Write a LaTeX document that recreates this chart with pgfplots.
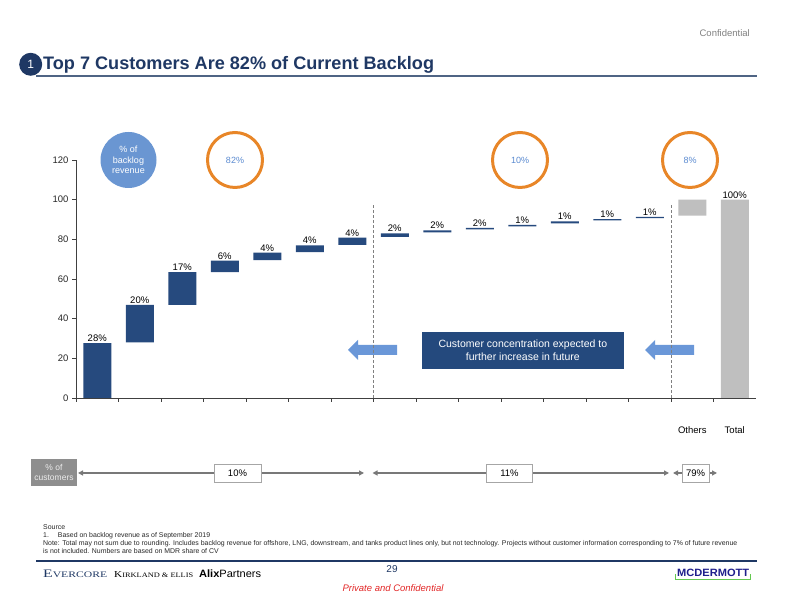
\documentclass[border=0pt]{standalone}
\usepackage{fontspec}
\setmainfont{Liberation Sans}
\newfontfamily\seriffont{Liberation Serif}
\usepackage{graphicx}
\usepackage{pgfplots}
\pgfplotsset{compat=1.18}
\usetikzlibrary{arrows.meta}
\definecolor{barblue}{RGB}{38,74,126}
\definecolor{bargray}{RGB}{191,191,191}
\definecolor{titleblue}{RGB}{31,56,100}
\definecolor{ulblue}{RGB}{79,100,132}
\definecolor{ringorange}{RGB}{232,134,40}
\definecolor{ringtext}{RGB}{90,138,208}
\definecolor{circfill}{RGB}{106,150,210}
\definecolor{arrowblue}{RGB}{106,151,216}
\definecolor{boxblue}{RGB}{36,73,125}
\definecolor{custgray}{RGB}{142,142,142}
\definecolor{linegray}{RGB}{120,120,120}
\definecolor{confgray}{RGB}{128,128,128}
\definecolor{mcblue}{RGB}{30,30,140}
\definecolor{mcgreen}{RGB}{100,200,80}
\definecolor{pcred}{RGB}{226,38,38}
\tikzset{blab/.style={anchor=base, inner sep=0, yshift=1.5pt, font=\fontsize{9.5}{11}\selectfont}}
\begin{document}
\begin{tikzpicture}[x=1pt,y=1pt]
\useasboundingbox (0,0) rectangle (792,612);
% header
\node[anchor=base east, inner sep=0, text=confgray, font=\fontsize{9.5}{11}\selectfont] at (750,575) {Confidential};
\draw[line width=2pt, ulblue] (36,536.3) -- (757,536.3);
\fill[titleblue] (30.7,547.7) circle (11.5);
\node[text=white, font=\fontsize{12}{14}\selectfont] at (30.7,547.7) {1};
\node[anchor=base west, inner sep=0, text=titleblue, font=\bfseries\fontsize{18.1}{21}\selectfont] at (43,542.5) {Top 7 Customers Are 82\% of Current Backlog};
% circles
\fill[circfill] (128.5,452) circle (28);
\node[text=white, align=center, font=\fontsize{9}{10.5}\selectfont] at (128.5,452) {\% of\\backlog\\revenue};
\foreach \cx/\lab in {235/82, 520/10, 690/8}{
  \draw[ringorange, line width=3pt] (\cx,452) circle (27.5);
  \node[text=ringtext, font=\fontsize{9}{10.5}\selectfont] at (\cx,452) {\lab\%};
}
% blue block arrows
\fill[arrowblue] (348,262) -- (358,272) -- (358,267) -- (397,267) -- (397,257) -- (358,257) -- (358,252) -- cycle;
\fill[arrowblue] (645,262) -- (655,272) -- (655,267) -- (694,267) -- (694,257) -- (655,257) -- (655,252) -- cycle;
% callout box
\fill[boxblue] (421.7,243) rectangle (624,280);
\node[text=white, align=center, font=\fontsize{10.5}{12.7}\selectfont] at (522.85,261.5) {Customer concentration expected to\\further increase in future};
\begin{axis}[
  at={(76pt,214pt)}, anchor=south west,
  scale only axis, width=680pt, height=238pt,
  xmin=-0.5, xmax=15.5, ymin=0, ymax=120,
  axis x line*=bottom, axis y line*=left,
  axis line style={black!75, line width=0.8pt},
  tick style={black!75, line width=0.8pt},
  tick align=outside, major tick length=4pt,
  xtick={-0.5,0.5,...,14.5}, xticklabels={},
  ytick={0,20,...,120},
  yticklabel style={font=\fontsize{9.5}{11}\selectfont, text=black!85},
  /pgf/number format/assume math mode=true,
  ybar stacked, bar width=28pt,
  clip=false,
]
\addplot[fill=none, draw=none] coordinates {(0,0) (1,28) (2,47) (3,63.5) (4,69.5) (5,73.5) (6,77.2) (7,81.2) (8,83.5) (9,85) (10,86.5) (11,88) (12,89.5) (13,90.7) (14,92) (15,0)};
\addplot[fill=barblue, draw=none] coordinates {(0,27.7) (1,19) (2,16.5) (3,5.7) (4,3.8) (5,3.5) (6,3.6) (7,1.8) (8,1.0) (9,0.8) (10,0.8) (11,1.0) (12,0.7) (13,0.6) (14,0) (15,0)};
\addplot[fill=bargray, draw=none] coordinates {(0,0) (1,0) (2,0) (3,0) (4,0) (5,0) (6,0) (7,0) (8,0) (9,0) (10,0) (11,0) (12,0) (13,0) (14,8) (15,100)};
\draw[gray, line width=0.8pt, dash pattern=on 3pt off 2pt] (axis cs:6.5,0) -- (axis cs:6.5,98);
\draw[gray, line width=0.8pt, dash pattern=on 3pt off 2pt] (axis cs:13.5,0) -- (axis cs:13.5,98);
\node[blab] at (axis cs:0,27.7) {28\%};
\node[blab] at (axis cs:1,47) {20\%};
\node[blab] at (axis cs:2,63.5) {17\%};
\node[blab] at (axis cs:3,69.2) {6\%};
\node[blab] at (axis cs:4,73.3) {4\%};
\node[blab] at (axis cs:5,77) {4\%};
\node[blab] at (axis cs:6,80.8) {4\%};
\node[blab] at (axis cs:7,83) {2\%};
\node[blab] at (axis cs:8,84.5) {2\%};
\node[blab] at (axis cs:9,85.8) {2\%};
\node[blab] at (axis cs:10,87.3) {1\%};
\node[blab] at (axis cs:11,89) {1\%};
\node[blab] at (axis cs:12,90.2) {1\%};
\node[blab] at (axis cs:13,91.3) {1\%};
\node[blab] at (axis cs:15,100) {100\%};
\node[font=\fontsize{9.5}{11}\selectfont] at (axis cs:14,-16.1) {Others};
\node[font=\fontsize{9.5}{11}\selectfont] at (axis cs:15,-16.1) {Total};
\end{axis}
% bottom customer row
\fill[custgray] (30.7,126) rectangle (77.3,153);
\node[text=white!85!gray, align=center, font=\fontsize{8.5}{10}\selectfont] at (54,139.5) {\% of\\customers};
\draw[linegray, line width=1.2pt, {Triangle[length=5pt,width=5pt]}-{Triangle[length=5pt,width=5pt]}] (78,139) -- (364,139);
\draw[linegray, line width=1.2pt, {Triangle[length=5pt,width=5pt]}-{Triangle[length=5pt,width=5pt]}] (372.5,139) -- (669,139);
\draw[linegray, line width=1.2pt, {Triangle[length=5pt,width=5pt]}-{Triangle[length=5pt,width=5pt]}] (673,139) -- (717,139);
\foreach \xa/\xb/\lab in {214/261/10, 486.5/532.5/11, 682/709/79}{
  \filldraw[fill=white, draw=black!35, line width=0.8pt] (\xa,130) rectangle (\xb,148);
  \node[font=\fontsize{9.5}{11}\selectfont] at ({(\xa+\xb)/2},139) {\lab\%};
}
% footnotes
\node[anchor=north west, inner sep=0, align=left, text=black!85, font=\fontsize{6.93}{8.1}\selectfont] at (43,87.5) {Source\\1.\hspace{9pt}Based on backlog revenue as of September 2019\\Note: Total may not sum due to rounding. Includes backlog revenue for offshore, LNG, downstream, and tanks product lines only, but not technology. Projects without customer information corresponding to 7\% of future revenue\\is not included. Numbers are based on MDR share of CV};
\draw[line width=1.2pt, titleblue] (36,51) -- (757,51);
% logos
\node[anchor=base west, inner sep=0, text=titleblue] at (43,34.5) {\resizebox{64pt}{7.5pt}{\seriffont E\fontsize{7.4}{8}\selectfont VERCORE}};
\node[anchor=base west, inner sep=0, text=black] at (114,34.5) {\resizebox{79pt}{6pt}{\seriffont K\fontsize{7.4}{8}\selectfont IRKLAND \& E\fontsize{7.4}{8}\selectfont LLIS}};
\node[anchor=base west, inner sep=0, text=black] at (199,34.3) {\resizebox{62pt}{7.7pt}{\textbf{Alix}Partners}};
\node[text=titleblue, font=\fontsize{10}{12}\selectfont] at (392,43) {29};
\node[text=pcred, font=\itshape\fontsize{9.5}{11}\selectfont] at (393,24) {Private and Confidential};
\node[anchor=base west, inner sep=0, text=mcblue] at (677,35.3) {\resizebox{72pt}{7.4pt}{\bfseries MCDERMOTT}};
\draw[mcgreen, line width=1pt] (675,38) -- (675,32.7) -- (750,32.7) -- (750,38);
\end{tikzpicture}
\end{document}
